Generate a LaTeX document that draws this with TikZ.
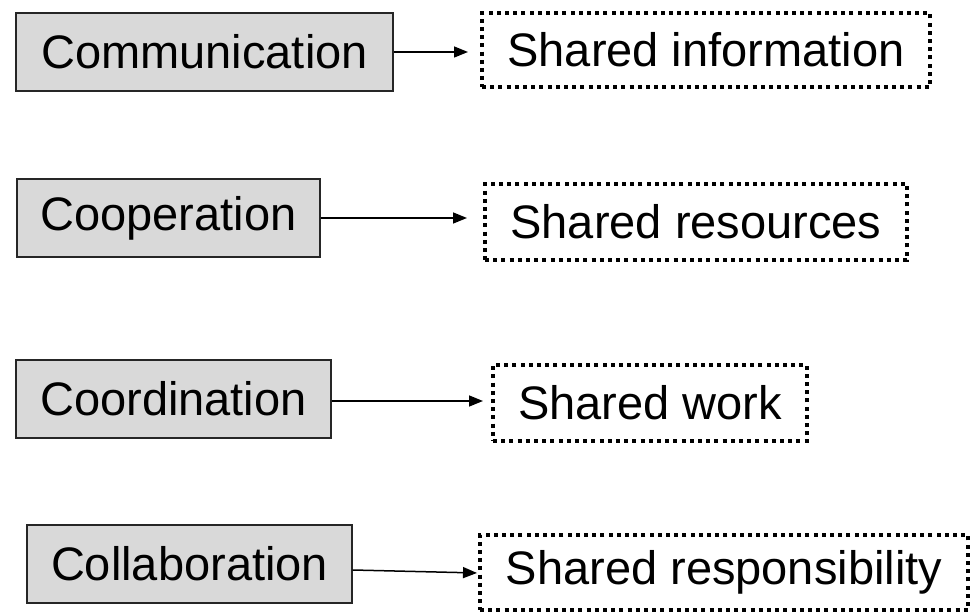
\documentclass[tikz,border=0pt]{standalone}
\usepackage{fontspec}
\setmainfont{Liberation Sans}
\usetikzlibrary{arrows.meta}
\begin{document}
\begin{tikzpicture}[x=1pt,y=1pt,
  conceptbox/.style={draw=black!85, line width=1.3pt, fill=gray!30, inner sep=0pt, font=\fontsize{47}{56}\selectfont},
  sharedbox/.style={draw=black, line width=4pt, dash pattern=on 4pt off 4.2pt, inner sep=0pt, font=\fontsize{47}{56}\selectfont},
  link/.style={line width=1.5pt, -{Triangle[length=14pt,width=11pt]}}
]
\useasboundingbox (0,0) rectangle (970,616);
% gray boxes (y flipped: 616 - y)
\node[conceptbox, minimum width=377, minimum height=78] (b1) at (204.5,564) {Communication};
\node[conceptbox, minimum width=303, minimum height=78] (b2) at (168.5,398) {Cooperation};
\node[conceptbox, minimum width=315, minimum height=78] (b3) at (173.5,217) {Coordination};
\node[conceptbox, minimum width=325, minimum height=78] (b4) at (189.5,52) {Collaboration};
% dotted boxes
\node[sharedbox, minimum width=448, minimum height=74] (d1) at (706,566) {Shared information};
\node[sharedbox, minimum width=422, minimum height=76] (d2) at (696,394) {Shared resources};
\node[sharedbox, minimum width=314, minimum height=76] (d3) at (650,213) {Shared work};
\node[sharedbox, minimum width=488, minimum height=75] (d4) at (724,43.5) {Shared responsibility};
% connectors
\draw[link, shorten >=12pt] (b1.east) -- (b1.east -| d1.west);
\draw[link, shorten >=16pt] (b2.east) -- (b2.east -| d2.west);
\draw[link, shorten >=8pt] ([yshift=-2pt]b3.east) -- ([yshift=-2pt]b3.east -| d3.west);
\draw[link, shorten >=1pt] ([yshift=-6pt]b4.east) -- ([yshift=-9pt]b4.east -| d4.west);
\end{tikzpicture}
\end{document}
